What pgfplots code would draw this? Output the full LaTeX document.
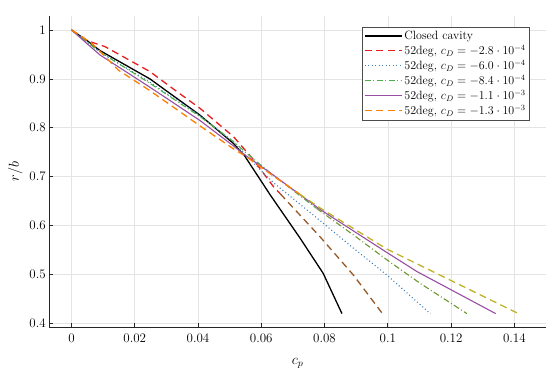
\documentclass[border=0pt]{standalone}
\usepackage{pgfplots}
\pgfplotsset{compat=1.18}
\definecolor{cred}{RGB}{232,28,30}
\definecolor{cblue}{RGB}{60,126,190}
\definecolor{cgreen}{RGB}{77,175,74}
\definecolor{cpurple}{RGB}{152,78,163}
\definecolor{corange}{RGB}{255,127,0}
\definecolor{cbrown}{RGB}{150,90,40}
\definecolor{cyellow}{RGB}{192,178,40}
\definecolor{colive}{RGB}{110,150,50}
\definecolor{cgrid}{RGB}{228,228,228}
\begin{document}
\begin{tikzpicture}
\begin{axis}[
  name=ax,
  scale only axis,
  width=496.7pt, height=311pt,
  xmin=-0.007, xmax=0.150,
  ymin=0.3926, ymax=1.0286,
  axis lines*=left,
  axis line style={black!85, line width=0.7pt, -},
  tick style={black!85, line width=0.7pt},
  major tick length=4pt,
  tick align=inside,
  xtick={0,0.02,0.04,0.06,0.08,0.1,0.12,0.14},
  xticklabels={0,0.02,0.04,0.06,0.08,0.1,0.12,0.14},
  ytick={0.4,0.5,0.6,0.7,0.8,0.9,1},
  yticklabels={0.4,0.5,0.6,0.7,0.8,0.9,1},
  grid=major,
  major grid style={cgrid, line width=0.6pt},
  ticklabel style={font=\fontsize{13}{15}\selectfont},
  xticklabel style={yshift=-3pt},
  xlabel={$c_p$},
  ylabel={$r/b$},
  label style={font=\fontsize{14.5}{16}\selectfont},
  xlabel style={at={(axis description cs:0.5,0)}, anchor=center, yshift=-36pt},
  ylabel style={at={(axis description cs:0,0.5)}, anchor=center, yshift=34pt},
  legend style={at={(1,1)}, anchor=north east, xshift=-16pt, yshift=-10.7pt,
    draw=black!70, line width=0.7pt, fill=white,
    font=\fontsize{12}{13.5}\selectfont, inner sep=2pt,
    row sep=0pt},
  legend cell align=left,
  every axis plot post/.append style={legend image code/.code={\draw[##1] (0pt,0pt) -- (37pt,0pt);}},
]
% Closed cavity
\addplot[black, line width=1.3pt] coordinates {
(0,1) (0.005,0.978) (0.009,0.958) (0.0248,0.900) (0.0406,0.826) (0.0512,0.768) (0.0548,0.742) (0.0628,0.663) (0.0723,0.574) (0.0796,0.502) (0.0855,0.42)};
\addlegendentry{Closed cavity}
% cD = -2.8e-4
\addplot[cred, line width=1.3pt, dash pattern=on 7pt off 4.5pt] coordinates {
(0,1) (0.005,0.978) (0.0106,0.966) (0.0248,0.915) (0.0327,0.877) (0.0406,0.840) (0.0512,0.782) (0.0575,0.735) (0.0638,0.680) (0.066,0.665)};
\addlegendentry{52deg, $c_D=-2.8\cdot10^{-4}$}
% cD = -6.0e-4
\addplot[cblue, line width=1.1pt, dash pattern=on 1pt off 2.5pt] coordinates {
(0,1) (0.009,0.955) (0.0248,0.893) (0.0406,0.825) (0.0512,0.771) (0.0548,0.746) (0.0638,0.688) (0.0786,0.610) (0.0891,0.554) (0.0997,0.499) (0.1134,0.42)};
\addlegendentry{52deg, $c_D=-6.0\cdot10^{-4}$}
% cD = -8.4e-4
\addplot[cgreen, line width=1.1pt, dash pattern=on 6pt off 2.5pt on 1pt off 2.5pt] coordinates {
(0,1) (0.009,0.955) (0.0248,0.891) (0.0406,0.823) (0.0512,0.772) (0.055,0.750) (0.0628,0.708) (0.0775,0.635)};
\addlegendentry{52deg, $c_D=-8.4\cdot10^{-4}$}
% cD = -1.1e-3
\addplot[cpurple, line width=1.1pt] coordinates {
(0,1) (0.009,0.949) (0.0248,0.883) (0.0406,0.815) (0.0512,0.763) (0.0545,0.746) (0.0628,0.708) (0.0786,0.633) (0.0997,0.545) (0.1092,0.506) (0.1341,0.42)};
\addlegendentry{52deg, $c_D=-1.1\cdot10^{-3}$}
% cD = -1.3e-3
\addplot[corange, line width=1.3pt, dash pattern=on 7pt off 4.5pt] coordinates {
(0,1) (0.006,0.975) (0.0085,0.960) (0.0148,0.918) (0.0248,0.876) (0.0406,0.804) (0.0512,0.757) (0.055,0.742) (0.0628,0.706) (0.072,0.665)};
\addlegendentry{52deg, $c_D=-1.3\cdot10^{-3}$}
% lower parts
\addplot[cbrown, line width=1.3pt, dash pattern=on 7pt off 4.5pt, forget plot] coordinates {
(0.066,0.665) (0.0786,0.577) (0.0891,0.499) (0.0983,0.42)};
\addplot[colive, line width=1.1pt, dash pattern=on 6pt off 2.5pt on 1pt off 2.5pt, forget plot] coordinates {
(0.0775,0.635) (0.0891,0.581) (0.0997,0.530) (0.1102,0.482) (0.125,0.42)};
\addplot[cyellow, line width=1.3pt, dash pattern=on 7pt off 4.5pt, forget plot] coordinates {
(0.072,0.665) (0.0786,0.636) (0.0997,0.552) (0.1413,0.42)};
\end{axis}
\pgfresetboundingbox
\path[use as bounding box] ([shift={(-49.3pt,-44pt)}]ax.south west) rectangle ([shift={(4pt,16pt)}]ax.north east);
\end{tikzpicture}
\end{document}
